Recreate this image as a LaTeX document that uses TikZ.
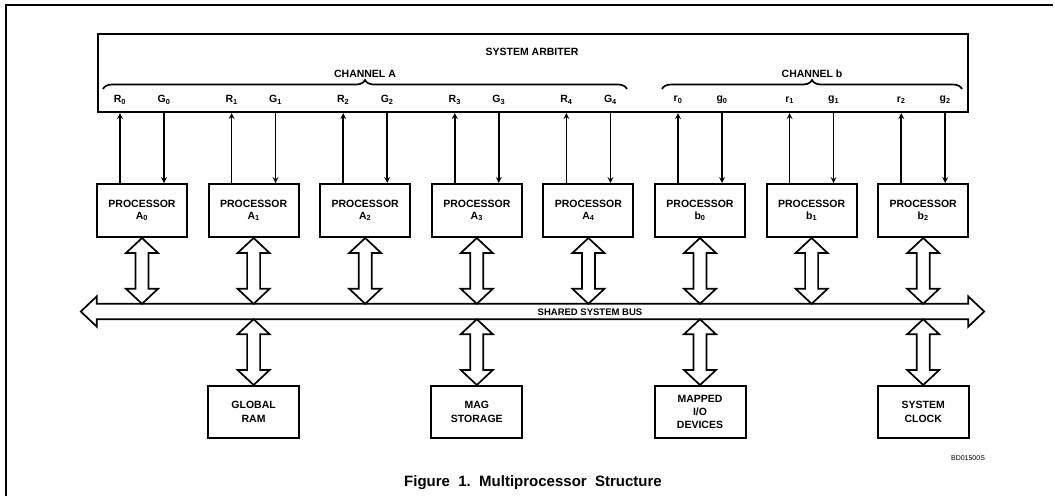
\documentclass[tikz,border=0pt]{standalone}
\usepackage{fontspec}
\setmainfont{Liberation Sans}
\usetikzlibrary{calc,decorations.pathreplacing}

% hollow two-headed link between a unit and the bus
\newcommand{\busarrow}[2]{%
  \draw[buslink] let \p1 = (#1), \p2 = (#2) in
    (\x1,\y1) -- (\x1+16pt,\y1-15pt) -- (\x1+6.5pt,\y1-15pt) -- (\x1+6.5pt,\y2+15pt)
    -- (\x1+16pt,\y2+15pt) -- (\x1,\y2) -- (\x1-16pt,\y2+15pt) -- (\x1-6.5pt,\y2+15pt)
    -- (\x1-6.5pt,\y1-15pt) -- (\x1-16pt,\y1-15pt) -- cycle;}

\begin{document}
\begin{tikzpicture}[x=1pt, y=-1pt]
  \tikzstyle{unit} = [rectangle, draw, line width=2pt, minimum width=90pt, minimum height=53pt, inner sep=0pt, align=center, font=\fontsize{10.5}{12}\selectfont\bfseries]
  \tikzstyle{device} = [unit, minimum width=91pt, minimum height=52pt, font=\fontsize{10.5}{14}\selectfont\bfseries]
  \tikzstyle{label} = [inner sep=0pt, font=\fontsize{10.5}{12}\selectfont\bfseries]
  \tikzstyle{sig} = [line width=1.6pt, ->, >=stealth]
  \tikzstyle{busline} = [line width=1.7pt, line join=miter]
  \tikzstyle{buslink} = [busline, fill=white]
  \tikzstyle{brace} = [line width=1.7pt, decorate, decoration={brace, amplitude=9pt}]

  \useasboundingbox (0,0) rectangle (1055,496);

  % Frame
  \draw[line width=1.5pt] (6,496) -- (6,5) -- (1053,5);

  % Arbiter
  \node (arbiter) [rectangle, draw, line width=2.2pt, minimum width=870pt, minimum height=78pt] at (533,73) {};
  \node (arblabel) [label] at (532,52) {SYSTEM ARBITER};
  \draw[brace] (103,89) -- (627,89);
  \draw[brace] (662,89) -- (962,89);
  \node (chA) [label] at (365,74) {CHANNEL A};
  \node (chB) [label] at (812,74) {CHANNEL b};

  % Request / grant lines
  \node (reqA0) [label] at (120,100) {R\textsubscript{0}};
  \node (grantA0) [label] at (164,100) {G\textsubscript{0}};
  \node (reqA1) [label] at (231.6,100) {R\textsubscript{1}};
  \node (grantA1) [label] at (275.6,100) {G\textsubscript{1}};
  \node (reqA2) [label] at (343.2,100) {R\textsubscript{2}};
  \node (grantA2) [label] at (387.2,100) {G\textsubscript{2}};
  \node (reqA3) [label] at (454.8,100) {R\textsubscript{3}};
  \node (grantA3) [label] at (498.8,100) {G\textsubscript{3}};
  \node (reqA4) [label] at (566.4,100) {R\textsubscript{4}};
  \node (grantA4) [label] at (610.4,100) {G\textsubscript{4}};
  \node (reqB0) [label] at (678,100) {r\textsubscript{0}};
  \node (grantB0) [label] at (722,100) {g\textsubscript{0}};
  \node (reqB1) [label] at (789.6,100) {r\textsubscript{1}};
  \node (grantB1) [label] at (833.6,100) {g\textsubscript{1}};
  \node (reqB2) [label] at (901.2,100) {r\textsubscript{2}};
  \node (grantB2) [label] at (945.2,100) {g\textsubscript{2}};

  % Processors
  \node (procA0) [unit] at (142,210.5) {PROCESSOR\\A\textsubscript{0}};
  \node (procA1) [unit] at (253.6,210.5) {PROCESSOR\\A\textsubscript{1}};
  \node (procA2) [unit] at (365.2,210.5) {PROCESSOR\\A\textsubscript{2}};
  \node (procA3) [unit] at (476.8,210.5) {PROCESSOR\\A\textsubscript{3}};
  \node (procA4) [unit] at (588.4,210.5) {PROCESSOR\\A\textsubscript{4}};
  \node (procB0) [unit] at (700,210.5) {PROCESSOR\\b\textsubscript{0}};
  \node (procB1) [unit] at (811.6,210.5) {PROCESSOR\\b\textsubscript{1}};
  \node (procB2) [unit] at (923.2,210.5) {PROCESSOR\\b\textsubscript{2}};

  \draw[sig] (procA0.north -| reqA0) -- (reqA0 |- arbiter.south);
  \draw[sig] (grantA0 |- arbiter.south) -- (procA0.north -| grantA0);
  \draw[sig] (procA1.north -| reqA1) -- (reqA1 |- arbiter.south);
  \draw[sig] (grantA1 |- arbiter.south) -- (procA1.north -| grantA1);
  \draw[sig] (procA2.north -| reqA2) -- (reqA2 |- arbiter.south);
  \draw[sig] (grantA2 |- arbiter.south) -- (procA2.north -| grantA2);
  \draw[sig] (procA3.north -| reqA3) -- (reqA3 |- arbiter.south);
  \draw[sig] (grantA3 |- arbiter.south) -- (procA3.north -| grantA3);
  \draw[sig] (procA4.north -| reqA4) -- (reqA4 |- arbiter.south);
  \draw[sig] (grantA4 |- arbiter.south) -- (procA4.north -| grantA4);
  \draw[sig] (procB0.north -| reqB0) -- (reqB0 |- arbiter.south);
  \draw[sig] (grantB0 |- arbiter.south) -- (procB0.north -| grantB0);
  \draw[sig] (procB1.north -| reqB1) -- (reqB1 |- arbiter.south);
  \draw[sig] (grantB1 |- arbiter.south) -- (procB1.north -| grantB1);
  \draw[sig] (procB2.north -| reqB2) -- (reqB2 |- arbiter.south);
  \draw[sig] (grantB2 |- arbiter.south) -- (procB2.north -| grantB2);

  % Shared bus
  \node (bus) [minimum width=871pt, minimum height=15pt, inner sep=0pt] at (532.5,311.5) {};
  \draw[busline] (bus.north west) -- (bus.north east) -- ([yshift=7.5pt]bus.north east) -- ([xshift=16pt]bus.east)
    -- ([yshift=-7.5pt]bus.south east) -- (bus.south east) -- (bus.south west) -- ([yshift=-7.5pt]bus.south west)
    -- ([xshift=-16pt]bus.west) -- ([yshift=7.5pt]bus.north west) -- cycle;
  \node (buslabel) [inner sep=0pt, font=\fontsize{9.5}{11}\selectfont\bfseries] at (590,312) {SHARED SYSTEM BUS};

  % Devices
  \node (gram) [device] at (253.6,412) {GLOBAL\\RAM};
  \node (mag) [device] at (476.8,412) {MAG\\STORAGE};
  \node (mio) [device, font=\fontsize{10.5}{13}\selectfont\bfseries] at (700,412) {MAPPED\\I/O\\DEVICES};
  \node (sclk) [device] at (923.2,412) {SYSTEM\\CLOCK};

  \busarrow{procA0.south}{procA0.south |- bus.north}
  \busarrow{procA1.south}{procA1.south |- bus.north}
  \busarrow{procA2.south}{procA2.south |- bus.north}
  \busarrow{procA3.south}{procA3.south |- bus.north}
  \busarrow{procA4.south}{procA4.south |- bus.north}
  \busarrow{procB0.south}{procB0.south |- bus.north}
  \busarrow{procB1.south}{procB1.south |- bus.north}
  \busarrow{procB2.south}{procB2.south |- bus.north}
  \busarrow{gram.north |- bus.south}{gram.north}
  \busarrow{mag.north |- bus.south}{mag.north}
  \busarrow{mio.north |- bus.south}{mio.north}
  \busarrow{sclk.north |- bus.south}{sclk.north}

  % Caption
  \node (code) [inner sep=0pt, font=\fontsize{7}{8}\selectfont] at (968,458) {BD01500S};
  \node (caption) [inner sep=0pt, font=\fontsize{15}{18}\selectfont\bfseries] at (533,483) {Figure\ \ 1.\ \ Multiprocessor\ \ Structure};
\end{tikzpicture}
\end{document}
